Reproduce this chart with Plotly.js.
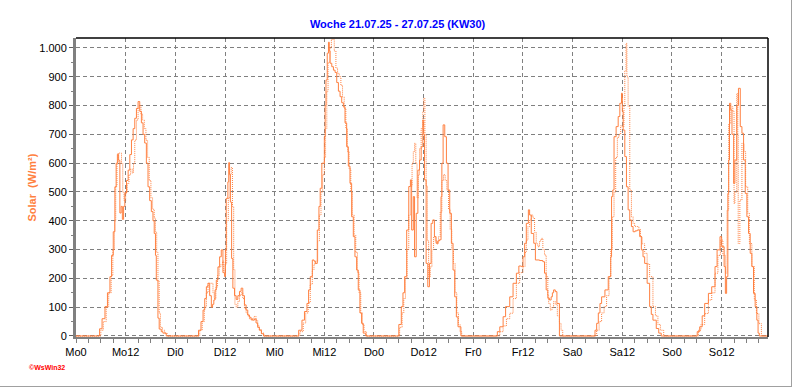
<!DOCTYPE html>
<html>
<head>
<meta charset="utf-8">
<script src="https://cdn.plot.ly/plotly-3.0.1.min.js"></script>
<style>
  html, body { margin: 0; padding: 0; background: #ffffff; }
  #wrap { position: relative; width: 792px; height: 387px; }
  #chart { width: 792px; height: 387px; }
  #frame { position: absolute; left: 0; top: 0; width: 792px; height: 387px; box-sizing: border-box;
           border-right: 1px solid #a0a0a0; border-bottom: 1px solid #a0a0a0; pointer-events: none; }
</style>
</head>
<body>
<div id="wrap"><div id="chart"></div><div id="frame"></div></div>
<script>
// ---- Data (hour of day, W/m²) ----
const dayNames = ['Mo', 'Di', 'Mi', 'Do', 'Fr', 'Sa', 'So'];

// solid series
const solidMo = [[0,0],[5.2,0],[5.7,25],[6.3,60],[7.0,102],[7.6,150],[8.2,206],[8.6,280],[9.0,362],[9.4,518],[9.7,600],[10.0,631],[10.3,610],[10.6,427],[10.9,450],[11.2,405],[11.5,450],[11.8,496],[12.2,540],[12.6,576],[13.0,630],[13.4,681],[13.8,720],[14.2,756],[14.6,790],[15.0,814],[15.4,780],[15.8,740],[16.2,700],[16.6,670],[17.0,600],[17.4,518],[17.8,470],[18.2,432],[18.6,400],[18.9,356],[19.2,280],[19.4,194],[19.8,62],[20.1,24],[20.6,15],[21.0,10],[21.8,0]];
const solidDi = [[0,0],[5.1,0],[5.6,20],[6.2,50],[6.7,90],[7.1,130],[7.5,171],[7.9,183],[8.3,140],[8.7,100],[9.0,110],[9.3,125],[9.6,160],[9.9,194],[10.3,240],[10.7,275],[11.1,299],[11.5,220],[11.9,206],[12.1,300],[12.3,478],[12.7,535],[12.9,602],[13.1,560],[13.3,465],[13.6,269],[13.9,166],[14.3,140],[14.7,127],[15.1,140],[15.5,155],[15.9,166],[16.3,140],[16.7,108],[17.1,90],[17.5,73],[17.9,65],[18.3,58],[18.7,55],[19.1,59],[19.5,45],[19.9,30],[20.3,20],[20.8,8],[21.3,0]];
const solidMi = [[0,0],[5.2,0],[5.8,20],[6.6,55],[7.2,85],[7.8,113],[8.2,160],[8.6,206],[9.1,264],[9.5,260],[9.8,252],[10.3,368],[10.7,450],[11.0,513],[11.4,600],[12.0,692],[12.2,800],[12.4,889],[12.7,982],[13.0,1020],[13.2,990],[13.4,947],[13.8,935],[14.2,923],[14.6,915],[15.0,880],[15.4,850],[15.8,831],[16.2,810],[16.6,796],[17.0,740],[17.4,657],[17.8,590],[18.2,530],[18.6,414],[19.0,345],[19.4,275],[19.8,229],[20.2,160],[20.6,80],[21.0,44],[21.4,10],[22.0,0]];
const solidDo = [[0,0],[5.4,0],[6.0,40],[6.6,102],[7.0,150],[7.4,206],[7.9,368],[8.4,519],[8.8,542],[9.1,368],[9.5,484],[9.8,275],[10.2,426],[10.6,576],[11.0,611],[11.4,657],[11.8,750],[12.0,700],[12.2,542],[12.6,252],[13.0,171],[13.4,252],[13.8,391],[14.2,403],[14.6,345],[15.0,322],[15.4,330],[15.8,334],[16.2,484],[16.4,600],[16.7,733],[17.1,692],[17.5,600],[17.9,507],[18.3,426],[18.7,322],[19.1,229],[19.5,136],[19.9,66],[20.3,32],[21.0,0]];
const solidFr = [[0,0],[5.2,0],[5.8,15],[6.4,32],[7.2,67],[7.8,102],[8.8,136],[9.6,183],[10.4,218],[11.0,243],[11.6,241],[12.0,275],[12.4,322],[12.8,391],[13.3,438],[13.6,420],[14.0,356],[14.6,322],[15.0,264],[16.0,262],[16.8,258],[17.2,218],[17.6,160],[18.0,131],[18.4,125],[18.8,136],[19.1,150],[19.4,160],[19.8,154],[20.2,113],[20.8,0]];
const solidSa = [[0,0],[5.0,0],[5.4,20],[5.8,44],[6.2,80],[6.6,113],[7.0,136],[7.8,160],[8.6,206],[9.2,275],[9.4,484],[9.7,507],[10.0,692],[10.5,727],[11.0,762],[11.4,808],[11.8,843],[12.0,780],[12.2,715],[12.6,623],[13.0,518],[13.4,438],[13.8,403],[14.2,380],[14.6,362],[15.1,365],[15.6,368],[16.2,345],[16.6,299],[17.0,275],[17.4,252],[18.0,183],[18.6,102],[19.0,75],[19.4,55],[20.2,26],[20.8,10],[21.4,0]];
const solidSo = [[0,0],[5.5,0],[6.1,15],[6.7,32],[7.3,70],[7.9,113],[8.8,148],[9.6,171],[10.4,241],[10.9,299],[11.6,345],[12.0,310],[12.6,241],[12.9,148],[13.2,206],[13.5,495],[13.7,611],[13.9,808],[14.2,785],[14.5,700],[14.9,530],[15.2,611],[15.65,800],[16.06,860],[16.5,727],[16.9,704],[17.3,611],[17.7,495],[18.1,414],[18.5,356],[18.9,287],[19.3,241],[19.7,148],[20.1,102],[20.5,55],[20.8,10],[21.1,0],[23.2,0]];

// dotted series
const dotMo = [[0,0],[5.5,0],[6.0,20],[6.6,50],[7.3,100],[7.9,150],[8.5,210],[8.9,300],[9.3,400],[9.6,520],[9.9,600],[10.2,635],[10.6,635],[11.0,600],[11.3,500],[11.6,470],[12.0,500],[12.4,530],[12.8,560],[13.2,580],[13.6,566],[13.9,600],[14.2,680],[14.6,750],[15.0,790],[15.3,800],[15.7,770],[16.1,750],[16.5,720],[16.9,680],[17.3,620],[17.7,540],[18.1,480],[18.5,440],[18.9,410],[19.2,360],[19.5,290],[19.8,190],[20.1,80],[20.4,30],[20.9,20],[21.4,10],[22.0,0]];
const dotDi = [[0,0],[5.4,0],[5.9,20],[6.5,50],[7.0,100],[7.5,150],[7.9,183],[8.3,183],[8.7,183],[9.1,150],[9.4,130],[9.8,170],[10.2,210],[10.6,240],[11.0,248],[11.4,260],[11.7,225],[12.0,250],[12.4,400],[12.8,480],[13.2,560],[13.5,585],[13.8,450],[14.1,230],[14.4,110],[14.7,100],[15.1,120],[15.5,140],[15.9,150],[16.3,130],[16.7,95],[17.1,80],[17.5,70],[17.9,60],[18.3,55],[18.7,62],[19.1,68],[19.5,55],[19.9,35],[20.3,22],[20.8,10],[21.4,0]];
const dotMi = [[0,0],[5.5,0],[6.1,15],[6.9,45],[7.5,80],[8.1,115],[8.6,180],[9.1,230],[9.5,250],[9.9,260],[10.4,330],[10.8,420],[11.2,500],[11.6,560],[12.0,620],[12.3,720],[12.6,850],[12.9,950],[13.3,1000],[13.7,1030],[14.1,1030],[14.4,990],[14.8,930],[15.2,912],[15.6,900],[16.0,870],[16.4,830],[16.8,790],[17.2,720],[17.6,640],[18.0,580],[18.4,500],[18.8,420],[19.2,350],[19.6,290],[20.0,220],[20.4,150],[20.8,80],[21.2,40],[21.6,15],[22.2,0]];
const dotDo = [[0,0],[5.6,0],[6.2,30],[6.8,80],[7.2,130],[7.6,200],[8.0,300],[8.4,420],[8.8,520],[9.2,600],[9.5,640],[9.8,669],[10.1,600],[10.4,480],[10.7,560],[11.0,650],[11.4,720],[11.8,780],[12.0,825],[12.3,700],[12.6,520],[12.9,330],[13.2,206],[13.6,240],[14.0,300],[14.4,345],[14.8,330],[15.2,320],[15.6,345],[16.0,430],[16.4,540],[16.8,560],[17.2,540],[17.6,507],[18.0,440],[18.4,370],[18.8,300],[19.2,252],[19.6,150],[20.0,80],[20.4,40],[20.8,15],[21.2,0]];
const dotFr = [[0,0],[5.8,0],[6.4,15],[7.2,35],[8.0,60],[8.8,79],[9.6,130],[10.4,183],[11.2,220],[12.0,241],[12.5,290],[12.8,333],[13.2,380],[13.6,403],[14.0,420],[14.4,410],[14.8,360],[15.2,320],[15.6,310],[16.0,330],[16.4,339],[16.8,300],[17.2,281],[17.6,206],[18.0,140],[18.2,113],[18.6,90],[19.0,100],[19.4,120],[19.8,110],[20.3,70],[20.8,44],[21.2,20],[21.6,0]];
const dotSa = [[0,0],[5.4,0],[5.8,20],[6.4,50],[7.0,80],[7.6,102],[8.2,140],[8.8,206],[9.2,300],[9.6,414],[10.0,500],[10.4,620],[10.8,690],[11.2,700],[11.6,730],[12.0,727],[12.4,800],[12.6,920],[12.9,1016],[13.1,900],[13.4,797],[13.8,507],[14.2,414],[14.6,390],[15.0,380],[15.6,380],[16.0,370],[16.4,345],[16.8,320],[17.4,287],[18.0,250],[18.6,206],[19.4,102],[20.0,70],[20.6,40],[21.2,20],[22.0,0]];
const dotSo = [[0,0],[5.8,0],[6.4,20],[7.0,40],[7.9,78],[8.8,125],[9.6,150],[10.4,218],[11.1,280],[11.7,333],[12.3,280],[12.9,218],[13.3,437],[13.7,737],[14.2,796],[14.7,780],[15.0,460],[15.2,500],[15.65,842],[15.9,700],[16.0,321],[16.4,472],[16.9,669],[17.4,640],[17.8,518],[18.3,426],[18.7,321],[19.3,241],[19.9,125],[20.4,78],[21.0,43],[21.6,0],[23.2,0]];

const xTickText = ['Mo0','Mo12','Di0','Di12','Mi0','Mi12','Do0','Do12','Fr0','Fr12','Sa0','Sa12','So0','So12'];
const yTickVals = [0,100,200,300,400,500,600,700,800,900,1000];
const yTickText = ['0','100','200','300','400','500','600','700','800','900','1.000'];

// ---- build series ----
function build(days) {
  const x = [], y = [];
  days.forEach((pts, d) => pts.forEach(p => { x.push(d * 24 + p[0]); y.push(p[1]); }));
  return {x, y};
}
const solid = build([solidMo, solidDi, solidMi, solidDo, solidFr, solidSa, solidSo]);
const dotted = build([dotMo, dotDi, dotMi, dotDo, dotFr, dotSa, dotSo]);

const orange = '#ff8040';
const traces = [
  {x: dotted.x, y: dotted.y, type: 'scatter', mode: 'lines', line: {color: orange, width: 1, dash: '1px,1px', shape: 'hv'}, hoverinfo: 'skip'},
  {x: solid.x, y: solid.y, type: 'scatter', mode: 'lines', line: {color: orange, width: 1, shape: 'hv'}, hoverinfo: 'skip'}
];

const tickFont = {family: 'Liberation Sans, Arial, sans-serif', size: 11, color: '#000000'};
const layout = {
  width: 792, height: 387,
  margin: {l: 76, r: 24, t: 38, b: 50, pad: 0},
  paper_bgcolor: '#ffffff', plot_bgcolor: '#ffffff',
  showlegend: false,
  title: {text: 'Woche 21.07.25 - 27.07.25 (KW30)', font: {family: 'Liberation Sans, Arial, sans-serif', size: 11, color: '#0000ff', weight: 'bold'},
          x: 0.502, xref: 'container', xanchor: 'center', y: 1 - 24.5 / 387, yref: 'container', yanchor: 'middle'},
  xaxis: {
    range: [0, 167.2], tickmode: 'array', tickvals: xTickText.map((_, i) => i * 12), ticktext: xTickText,
    showgrid: true, gridcolor: '#808080', gridwidth: 1, griddash: '4px,3px', zeroline: false,
    showline: true, linecolor: '#808080', linewidth: 2,
    ticks: 'outside', ticklen: 4, tickwidth: 1, tickcolor: '#808080', tickfont: tickFont,
    minor: {dtick: 3, tick0: 0, ticks: 'outside', ticklen: 4, tickwidth: 1, tickcolor: '#808080', showgrid: false},
    fixedrange: true
  },
  yaxis: {
    range: [-3.5, 1034.7], tickmode: 'array', tickvals: yTickVals, ticktext: yTickText,
    showgrid: true, gridcolor: '#808080', gridwidth: 1, griddash: '4px,3px', zeroline: false,
    showline: true, linecolor: '#808080', linewidth: 3,
    ticks: 'outside', ticklen: 4, tickwidth: 1, tickcolor: '#606060', tickfont: tickFont,
    minor: {dtick: 50, tick0: 0, ticks: 'outside', ticklen: 2, tickwidth: 1, tickcolor: '#808080', showgrid: false},
    fixedrange: true
  },
  shapes: [
    {type: 'line', xref: 'paper', yref: 'paper', x0: 0, x1: 1, y0: 1, y1: 1, line: {color: '#000000', width: 1.5}, layer: 'above'},
    {type: 'line', xref: 'paper', yref: 'paper', x0: 1, x1: 1, y0: 0, y1: 1, line: {color: '#000000', width: 1.5}, layer: 'above'}
  ],
  annotations: [
    {text: 'Solar  (W/m²)', xref: 'paper', yref: 'paper', x: (31 - 76) / 692, y: 0.5, xanchor: 'center', yanchor: 'middle',
     textangle: -90, showarrow: false, font: {family: 'Liberation Sans, Arial, sans-serif', size: 11, color: orange, weight: 'bold'}},
    {text: '©WsWin32', xref: 'paper', yref: 'paper', x: (27 - 76) / 692, y: (337 - 367) / 299, xanchor: 'left', yanchor: 'middle',
     showarrow: false, font: {family: 'Liberation Sans, Arial, sans-serif', size: 7, color: '#ff0000', weight: 'bold'}}
  ]
};

Plotly.newPlot('chart', traces, layout, {displayModeBar: false, staticPlot: true});
</script>
</body>
</html>
